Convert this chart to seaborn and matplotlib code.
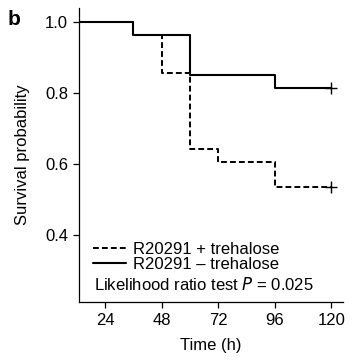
import matplotlib
matplotlib.use("Agg")
import matplotlib.pyplot as plt
import seaborn as sns
import pandas as pd

sns.set_theme(style="ticks")
plt.rcParams['font.family'] = ['Liberation Sans', 'DejaVu Sans']
plt.rcParams['text.color'] = 'black'
plt.rcParams['axes.labelcolor'] = 'black'

# Data (Kaplan-Meier step values)
time_minus = [0, 36, 60, 96, 120]
surv_minus = [1.0, 0.964, 0.851, 0.816, 0.816]
time_plus = [0, 36, 48, 60, 72, 96, 120]
surv_plus = [1.0, 0.964, 0.857, 0.643, 0.607, 0.536, 0.536]
label_plus = "R20291 + trehalose"
label_minus = "R20291 \u2013 trehalose"
x_ticks = [24, 48, 72, 96, 120]
y_ticks = [0.4, 0.6, 0.8, 1.0]

df_plus = pd.DataFrame({"time": time_plus, "surv": surv_plus})
df_minus = pd.DataFrame({"time": time_minus, "surv": surv_minus})

FS = 12

fig = plt.figure(figsize=(3.53, 3.61), dpi=100)
ax = fig.add_axes([0.224, 0.163, 0.748, 0.815])

sns.lineplot(data=df_plus, x="time", y="surv", ax=ax, color="black",
             drawstyle="steps-post", linewidth=1.4, dashes=False,
             label=label_plus, linestyle=(0, (3, 1.6)))
sns.lineplot(data=df_minus, x="time", y="surv", ax=ax, color="black",
             drawstyle="steps-post", linewidth=1.5, label=label_minus)

# censor marks
ax.plot([time_plus[-1]], [surv_plus[-1]], marker="+", color="black",
        markersize=9, markeredgewidth=1.0, linestyle="none")
ax.plot([time_minus[-1]], [surv_minus[-1]], marker="+", color="black",
        markersize=9, markeredgewidth=1.0, linestyle="none")

ax.set_xlim(13, 125)
ax.set_ylim(0.212, 1.04)
ax.set_xticks(x_ticks)
ax.set_yticks(y_ticks)
ax.set_xticklabels([str(t) for t in x_ticks])
ax.set_yticklabels([f"{v:.1f}" for v in y_ticks])
ax.tick_params(axis="both", labelsize=FS, direction="out", length=4,
               width=0.9, color="black", labelcolor="black", pad=4)
for s in ["top", "right"]:
    ax.spines[s].set_visible(False)
for s in ["left", "bottom"]:
    ax.spines[s].set_linewidth(0.9)
    ax.spines[s].set_color("black")

ax.set_xlabel("Time (h)", fontsize=FS, labelpad=7, color="black")
ax.set_ylabel("Survival probability", fontsize=FS, labelpad=11, color="black")

leg = ax.legend(loc="center left", bbox_to_anchor=(0.053, 0.155), frameon=False,
                fontsize=FS, handlelength=2.0, handletextpad=0.37,
                labelspacing=0.0, borderaxespad=0.0, borderpad=0.0)
for t in leg.get_texts():
    t.set_color("black")

ax.text(0.057, 0.061, "Likelihood ratio test $\\it{P}$ = 0.025",
        transform=ax.transAxes, fontsize=FS, ha="left", va="center", color="black")

fig.text(0.022, 0.972, "b", fontsize=15, fontweight="bold", ha="left", va="top",
         color="black")

fig.savefig("out.png", dpi=100)
